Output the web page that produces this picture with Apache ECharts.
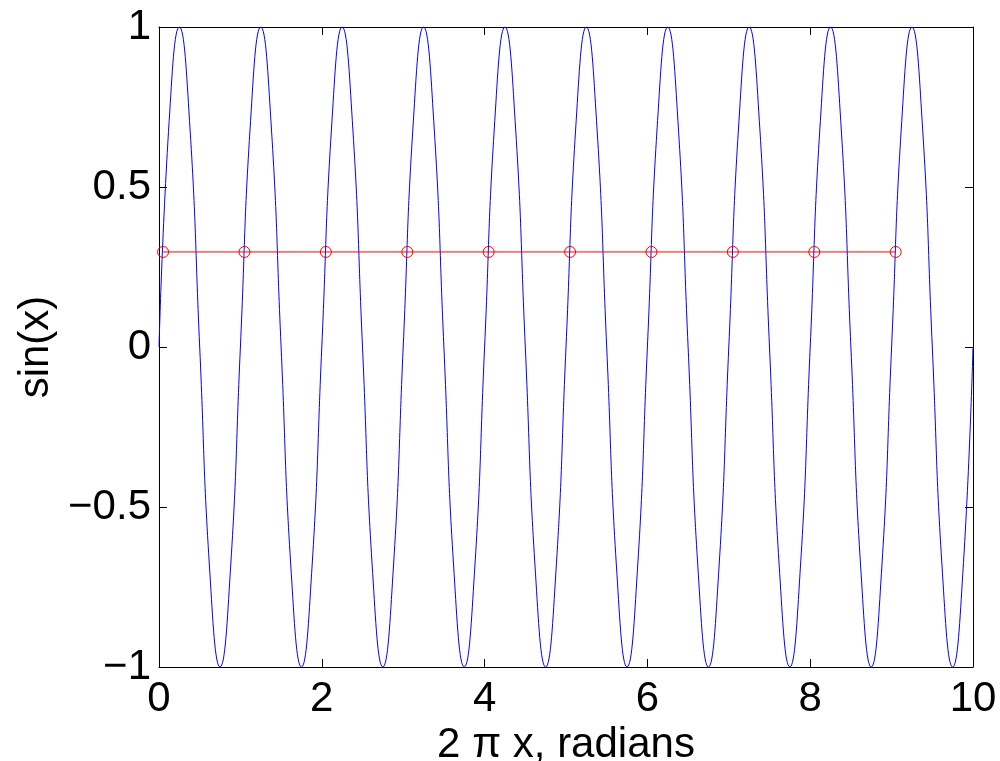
<!DOCTYPE html>
<html>
<head>
<meta charset="utf-8">
<script src="https://cdn.jsdelivr.net/npm/echarts@6/dist/echarts.min.js"></script>
<style>html,body{margin:0;padding:0;background:#fff}#c{width:1000px;height:761px}</style>
</head>
<body>
<div id="c"></div>
<script>
// Blue curve samples (every 1/8 of a period)
const waveX = [
  0, 0.125, 0.25, 0.375, 0.5, 0.625, 0.75, 0.875,
  1, 1.125, 1.25, 1.375, 1.5, 1.625, 1.75, 1.875,
  2, 2.125, 2.25, 2.375, 2.5, 2.625, 2.75, 2.875,
  3, 3.125, 3.25, 3.375, 3.5, 3.625, 3.75, 3.875,
  4, 4.125, 4.25, 4.375, 4.5, 4.625, 4.75, 4.875,
  5, 5.125, 5.25, 5.375, 5.5, 5.625, 5.75, 5.875,
  6, 6.125, 6.25, 6.375, 6.5, 6.625, 6.75, 6.875,
  7, 7.125, 7.25, 7.375, 7.5, 7.625, 7.75, 7.875,
  8, 8.125, 8.25, 8.375, 8.5, 8.625, 8.75, 8.875,
  9, 9.125, 9.25, 9.375, 9.5, 9.625, 9.75, 9.875,
  10
];
const waveY = [
  0, 0.707, 1, 0.707, 0, -0.707, -1, -0.707,
  0, 0.707, 1, 0.707, 0, -0.707, -1, -0.707,
  0, 0.707, 1, 0.707, 0, -0.707, -1, -0.707,
  0, 0.707, 1, 0.707, 0, -0.707, -1, -0.707,
  0, 0.707, 1, 0.707, 0, -0.707, -1, -0.707,
  0, 0.707, 1, 0.707, 0, -0.707, -1, -0.707,
  0, 0.707, 1, 0.707, 0, -0.707, -1, -0.707,
  0, 0.707, 1, 0.707, 0, -0.707, -1, -0.707,
  0, 0.707, 1, 0.707, 0, -0.707, -1, -0.707,
  0, 0.707, 1, 0.707, 0, -0.707, -1, -0.707,
  0
];
// Red marker line
const markX = [0.05, 1.05, 2.05, 3.05, 4.05, 5.05, 6.05, 7.05, 8.05, 9.05];
const markY = [0.297, 0.297, 0.297, 0.297, 0.297, 0.297, 0.297, 0.297, 0.297, 0.297];

const xTicks = [0, 2, 4, 6, 8, 10];
const yTicks = [-1, -0.5, 0, 0.5, 1];
const xTitle = '2 π x, radians';
const yTitle = 'sin(x)';

const FONT = '"Liberation Sans", Arial, Helvetica, sans-serif';
const chart = echarts.init(document.getElementById('c'), null, {renderer: 'canvas'});
const fmtNum = v => String(v).replace('-', '\u2212');
const tickStyle = {show: true, inside: true, length: 8, lineStyle: {color: '#000', width: 1}};
const lineStyle = {show: true, onZero: false, lineStyle: {color: '#000', width: 1}};

chart.setOption({
  animation: false,
  backgroundColor: '#fff',
  grid: {left: 159, right: 27, top: 27, bottom: 94, containLabel: false, outerBoundsMode: 'none'},
  xAxis: [
    {type: 'value', position: 'bottom', min: xTicks[0], max: xTicks[xTicks.length - 1], interval: 2,
     axisLine: lineStyle, axisTick: tickStyle, splitLine: {show: false},
     axisLabel: {color: '#000', fontSize: 42, fontFamily: FONT, margin: 11, formatter: fmtNum},
     name: xTitle, nameLocation: 'middle', nameGap: 51,
     nameTextStyle: {color: '#000', fontSize: 42, fontFamily: FONT}},
    {type: 'value', position: 'top', min: xTicks[0], max: xTicks[xTicks.length - 1], interval: 2,
     axisLine: lineStyle, axisTick: tickStyle, splitLine: {show: false}, axisLabel: {show: false}}
  ],
  yAxis: [
    {type: 'value', position: 'left', min: yTicks[0], max: yTicks[yTicks.length - 1], interval: 0.5,
     axisLine: lineStyle, axisTick: tickStyle, splitLine: {show: false},
     axisLabel: {color: '#000', fontSize: 42, fontFamily: FONT, margin: 8, formatter: fmtNum},
     name: yTitle, nameLocation: 'middle', nameGap: 101, nameRotate: 90,
     nameTextStyle: {color: '#000', fontSize: 42, fontFamily: FONT}},
    {type: 'value', position: 'right', min: yTicks[0], max: yTicks[yTicks.length - 1], interval: 0.5,
     axisLine: lineStyle, axisTick: tickStyle, splitLine: {show: false}, axisLabel: {show: false}}
  ],
  series: [
    {type: 'line', xAxisIndex: 0, yAxisIndex: 0,
     data: waveX.map((x, i) => [x, waveY[i]]),
     smooth: 0.5, showSymbol: false, symbol: 'none',
     lineStyle: {color: '#0000ff', width: 1}, z: 2},
    {type: 'line', xAxisIndex: 0, yAxisIndex: 0,
     data: markX.map((x, i) => [x, markY[i]]),
     symbol: 'circle', symbolSize: 11, showSymbol: true,
     itemStyle: {color: 'rgba(0,0,0,0)', borderColor: '#ff0000', borderWidth: 1},
     lineStyle: {color: '#ff0000', width: 1}, z: 3}
  ]
});
</script>
</body>
</html>
